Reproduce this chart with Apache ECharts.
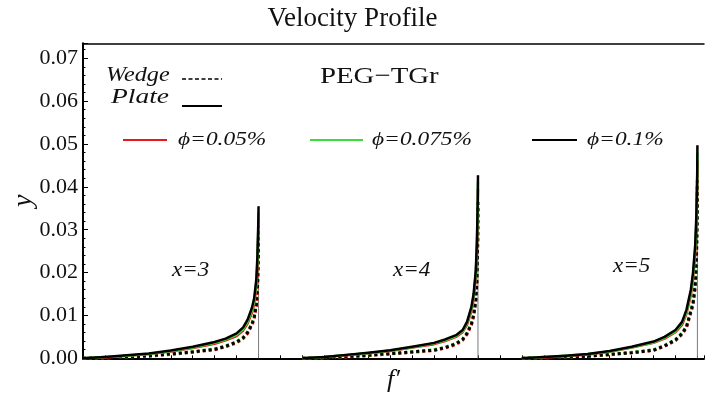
<!DOCTYPE html>
<html><head><meta charset="utf-8">
<script src="https://cdn.jsdelivr.net/npm/echarts@6/dist/echarts.min.js"></script>
<style>html,body{margin:0;padding:0;background:#fff}#c{width:705px;height:394px}</style>
</head><body><div id="c"></div>
<script>
// f' sample points (shared by every curve)
const fPrime = [0.2,0.3,0.4,0.5,0.6,0.7,0.8,0.85,0.9,0.93,0.95,0.97,0.98,0.99,0.995,0.999,1.0];
const panelLabels = ['x=3','x=4','x=5'];
const panelOffsets = [0,1,2];
const yTickLabels = ['0.00','0.01','0.02','0.03','0.04','0.05','0.06','0.07'];

// Plate (solid) curves, one array per panel (x=3, x=4, x=5)
const plateBlack = [
  [0,0.0003,0.0007,0.0011,0.0018,0.0027,0.0038,0.0046,0.0058,0.0072,0.0090,0.0118,0.0140,0.0185,0.0240,0.0320,0.0355],
  [0,0.0003,0.0008,0.0013,0.0019,0.0027,0.0036,0.0044,0.0054,0.0066,0.0085,0.0120,0.0150,0.0205,0.0270,0.0370,0.0427],
  [0,0.0003,0.0006,0.0010,0.0017,0.0027,0.0039,0.0050,0.0066,0.0085,0.0113,0.0160,0.0200,0.0265,0.0330,0.0430,0.0497]
];
const plateGreen = [
  [0,0.0003,0.0006,0.0010,0.0017,0.0025,0.0036,0.0044,0.0055,0.0068,0.0085,0.0112,0.0133,0.0176,0.0228,0.0305,0.0340],
  [0,0.0003,0.0008,0.0012,0.0018,0.0026,0.0035,0.0042,0.0052,0.0063,0.0082,0.0115,0.0144,0.0197,0.0259,0.0355,0.0412],
  [0,0.0003,0.0006,0.0010,0.0016,0.0026,0.0037,0.0048,0.0063,0.0082,0.0108,0.0154,0.0192,0.0255,0.0318,0.0415,0.0480]
];
const plateRed = [
  [0,0.0002,0.0006,0.0010,0.0016,0.0024,0.0034,0.0042,0.0052,0.0065,0.0081,0.0106,0.0126,0.0167,0.0216,0.0290,0.0325],
  [0,0.0003,0.0007,0.0012,0.0017,0.0025,0.0033,0.0040,0.0050,0.0061,0.0078,0.0110,0.0138,0.0189,0.0248,0.0340,0.0395],
  [0,0.0002,0.0005,0.0009,0.0015,0.0025,0.0036,0.0046,0.0061,0.0078,0.0104,0.0147,0.0184,0.0244,0.0304,0.0398,0.0460]
];
// Wedge (dashed) curves
const wedgeBlack = [
  [0,0.0001,0.0003,0.0006,0.0010,0.0015,0.0021,0.0028,0.0038,0.0048,0.0060,0.0080,0.0095,0.0125,0.0160,0.0240,0.0310],
  [0,0.0001,0.0004,0.0007,0.0011,0.0015,0.0019,0.0025,0.0034,0.0044,0.0058,0.0080,0.0100,0.0135,0.0180,0.0280,0.0370],
  [0,0.0001,0.0003,0.0005,0.0009,0.0013,0.0019,0.0029,0.0043,0.0058,0.0073,0.0110,0.0128,0.0170,0.0220,0.0330,0.0420]
];
const wedgeGreen = [
  [0,0.0001,0.0003,0.0006,0.0010,0.0015,0.0022,0.0029,0.0039,0.0049,0.0062,0.0082,0.0098,0.0128,0.0165,0.0245,0.0300],
  [0,0.0001,0.0004,0.0007,0.0011,0.0015,0.0020,0.0026,0.0035,0.0045,0.0060,0.0082,0.0103,0.0138,0.0185,0.0285,0.0360],
  [0,0.0001,0.0003,0.0005,0.0009,0.0014,0.0020,0.0030,0.0044,0.0060,0.0076,0.0113,0.0132,0.0175,0.0226,0.0338,0.0410]
];
const wedgeRed = [
  [0,0.0001,0.0003,0.0005,0.0009,0.0014,0.0020,0.0027,0.0036,0.0046,0.0058,0.0077,0.0092,0.0121,0.0155,0.0232,0.0295],
  [0,0.0001,0.0003,0.0006,0.0010,0.0014,0.0018,0.0024,0.0032,0.0042,0.0056,0.0077,0.0097,0.0131,0.0175,0.0272,0.0352],
  [0,0.0001,0.0003,0.0005,0.0008,0.0013,0.0018,0.0028,0.0041,0.0056,0.0071,0.0106,0.0124,0.0164,0.0212,0.0320,0.0400]
];

const RED = '#e3191c', GREEN = '#3ddc3d', BLACK = '#000000';
const SERIF = '"Liberation Serif","DejaVu Serif",serif';

const series = [];
function addCurves(arr, color, dashed, name) {
  arr.forEach((vals, p) => {
    series.push({
      name: name, type: 'line', silent: true, symbol: 'none', smooth: false,
      z: dashed ? 2 : 3,
      lineStyle: { color: color, width: dashed ? 3 : 2.5, type: dashed ? [3, 3] : 'solid', join: 'round' },
      data: fPrime.map((f, i) => [panelOffsets[p] + f, vals[i]])
    });
  });
}
addCurves(wedgeRed, RED, true, 'wedgeRed');
addCurves(wedgeGreen, GREEN, true, 'wedgeGreen');
addCurves(wedgeBlack, BLACK, true, 'wedgeBlack');
addCurves(plateRed, RED, false, 'plateRed');
addCurves(plateGreen, GREEN, false, 'plateGreen');
addCurves(plateBlack, BLACK, false, 'plateBlack');
// thin vertical reference lines at f'=1 of each panel
panelOffsets.forEach((o, p) => {
  series.push({
    type: 'line', silent: true, symbol: 'none', z: 1,
    lineStyle: { color: '#7a7a7a', width: 1 },
    data: [[o + 1, 0], [o + 1, plateBlack[p][plateBlack[p].length - 1]]]
  });
});

const chart = echarts.init(document.getElementById('c'), null, { renderer: 'canvas' });

function txt(x, y, text, size, italic, sx) {
  return { type: 'text', x: x, y: y, scaleX: sx || 1, z: 50,
    style: { text: text, font: (italic ? 'italic ' : '') + size + 'px ' + SERIF, fill: '#111', align: 'left', verticalAlign: 'middle' } };
}
function seg(x1, x2, y, color, dashed) {
  return { type: 'line', z: 50, shape: { x1: x1, y1: y, x2: x2, y2: y },
    style: { stroke: color, lineWidth: dashed ? 1.6 : 2, lineDash: dashed ? [4, 2.5] : null } };
}

const labelX = [172, 393, 613];
const labelY = [271, 271, 267];
chart.setOption({
  animation: false,
  backgroundColor: '#fff',
  title: {
    text: 'Velocity Profile', left: 'center', top: 0,
    textStyle: { fontFamily: SERIF, fontWeight: 'normal', fontSize: 27, color: '#111' }
  },
  grid: { left: 83, right: 1, top: 43.3, bottom: 35.7, containLabel: false, outerBoundsMode: 'none' },
  xAxis: [{
    type: 'value', min: 0.2, max: 3.03, interval: 0.1,
    name: 'f\u2032', nameLocation: 'middle', nameGap: 9, nameMoveOverlap: false,
    nameTextStyle: { fontFamily: SERIF, fontStyle: 'italic', fontSize: 26, color: '#111' },
    axisLine: { show: true, onZero: false, lineStyle: { color: '#000', width: 2 } },
    axisTick: { show: true, inside: true, length: 3, lineStyle: { color: '#000', width: 1 } },
    axisLabel: { show: false }, splitLine: { show: false }
  }, {
    type: 'value', min: 0.2, max: 3.03, position: 'top',
    axisLine: { show: true, onZero: false, lineStyle: { color: '#000', width: 1.5 } },
    axisTick: { show: false }, axisLabel: { show: false }, splitLine: { show: false }
  }],
  yAxis: {
    type: 'value', min: 0, max: 0.0735, interval: 0.01,
    name: 'y', nameLocation: 'middle', nameGap: 45, nameRotate: 90, nameMoveOverlap: false,
    nameTextStyle: { fontFamily: SERIF, fontStyle: 'italic', fontSize: 28, color: '#111' },
    axisLine: { show: true, lineStyle: { color: '#000', width: 2 } },
    axisTick: { show: true, inside: true, length: 5, lineStyle: { color: '#000' } },
    minorTick: { show: true, splitNumber: 5, length: 2.5, lineStyle: { color: '#000' } },
    axisLabel: {
      fontFamily: SERIF, fontSize: 22, color: '#111', margin: 5,
      formatter: v => { const i = Math.round(v * 100); return i >= 0 && i < yTickLabels.length && Math.abs(v * 100 - i) < 1e-6 ? yTickLabels[i] : ''; }
    },
    splitLine: { show: false }
  },
  graphic: [
    txt(106, 75, 'Wedge', 22, true, 1.1),
    seg(182, 222, 79, '#000', true),
    txt(111, 97, 'Plate', 22, true, 1.25),
    seg(182, 222, 106, '#000', false),
    txt(320, 77, 'PEG\u2212TGr', 24, false, 1.2),
    seg(123, 167, 140, RED, false),
    txt(178, 140, '\u03d5=0.05%', 18, true, 1.3),
    seg(310, 363, 140, GREEN, false),
    txt(372, 140, '\u03d5=0.075%', 18, true, 1.3),
    seg(532, 577, 140, '#000', false),
    txt(587, 140, '\u03d5=0.1%', 18, true, 1.3)
  ].concat(panelLabels.map((t, i) => txt(labelX[i], labelY[i], t, 20, true, 1.15))),
  series: series
});
</script>
</body></html>
